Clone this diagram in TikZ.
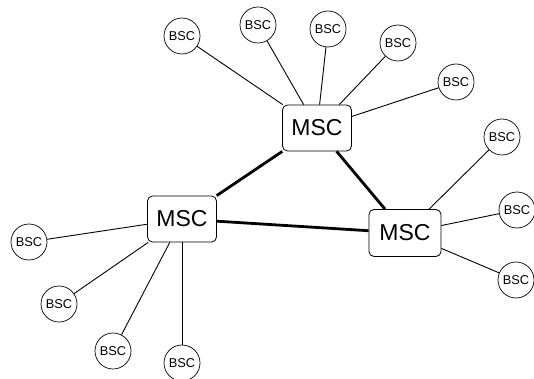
\documentclass[tikz,border=0pt]{standalone}
\usepackage{fontspec}
\setmainfont{Liberation Sans}
\begin{document}
\begin{tikzpicture}[x=1pt,y=-1pt,
  bsc/.style={draw,circle,minimum size=36pt,inner sep=0pt,line width=0.7pt,font=\fontsize{12.8}{13}\selectfont},
  msc/.style={draw,rounded corners=5pt,minimum width=69pt,minimum height=46pt,inner sep=0pt,line width=0.8pt,font=\fontsize{23}{23}\selectfont},
  thin/.style={line width=0.9pt},
  trunk/.style={line width=2.8pt}]
\useasboundingbox (0,0) rectangle (534,379);
\node[msc] (m1) at (317,128) {MSC};
\node[msc] (m2) at (182,219) {MSC};
\node[msc,minimum width=72pt,minimum height=47pt] (m3) at (405,233) {MSC};
\node[bsc] (a1) at (182,36) {BSC};
\node[bsc] (a2) at (258,25) {BSC};
\node[bsc] (a3) at (328,29) {BSC};
\node[bsc] (a4) at (398,43) {BSC};
\node[bsc] (a5) at (456,82) {BSC};
\node[bsc] (b1) at (29,242) {BSC};
\node[bsc] (b2) at (59,304) {BSC};
\node[bsc] (b3) at (113,351) {BSC};
\node[bsc] (b4) at (182,363) {BSC};
\node[bsc] (c1) at (502,137) {BSC};
\node[bsc] (c2) at (517,210) {BSC};
\node[bsc] (c3) at (516,280) {BSC};
\foreach \n in {a1,a2,a3,a4,a5} \draw[thin] (m1) -- (\n);
\foreach \n in {b1,b2,b3,b4} \draw[thin] (m2) -- (\n);
\foreach \n in {c1,c2,c3} \draw[thin] (m3) -- (\n);
\draw[trunk] (m2) -- (m1);
\draw[trunk] (m1) -- (m3);
\draw[trunk] (m2) -- (m3);
\end{tikzpicture}
\end{document}
